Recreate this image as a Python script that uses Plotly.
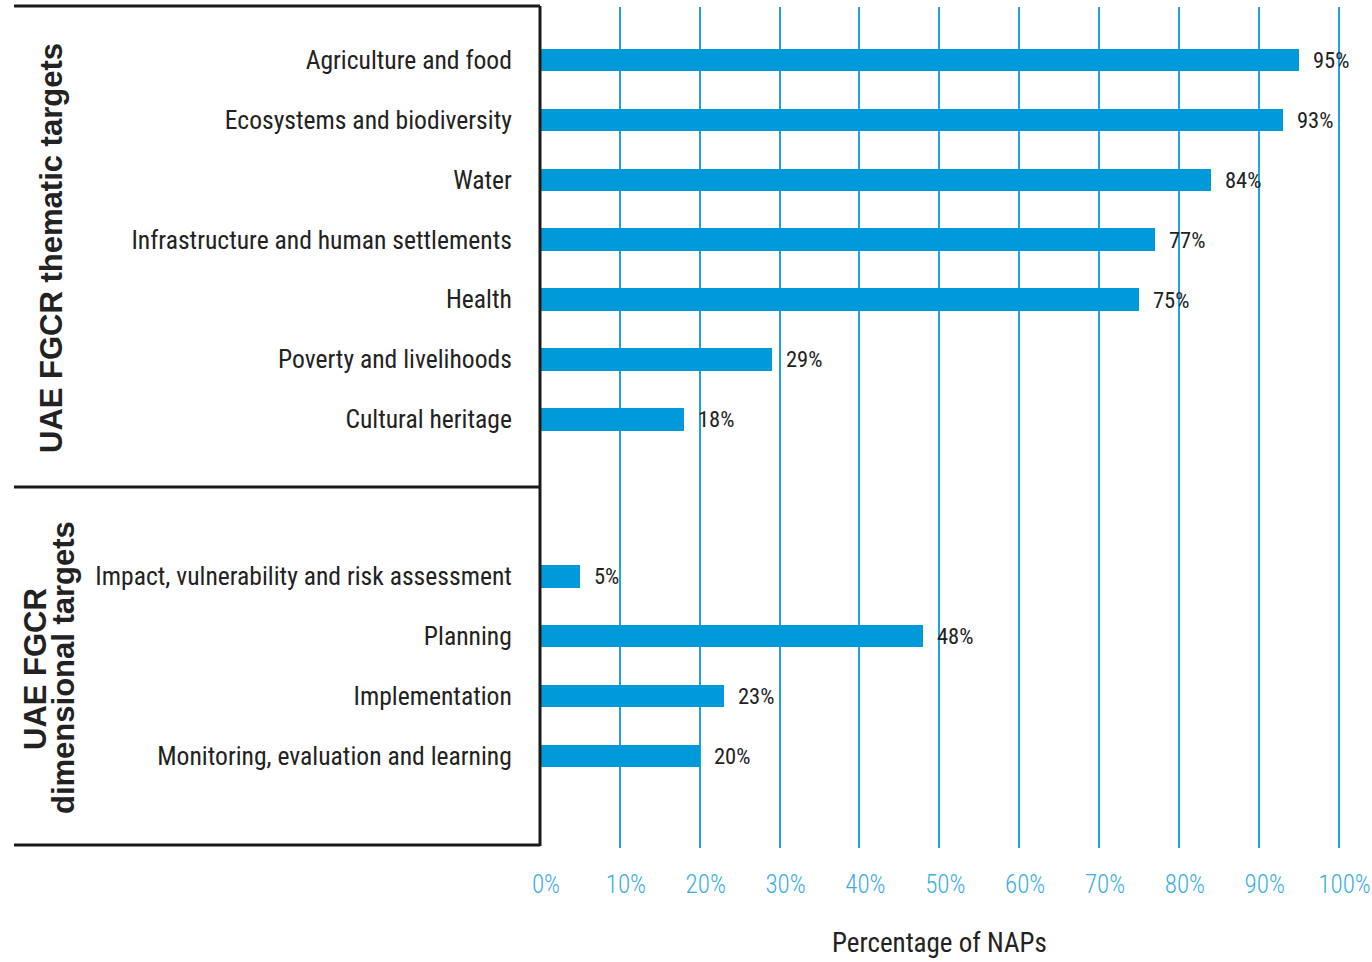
import plotly.graph_objects as go

# ---- data ----
thematic_labels = ["Agriculture and food", "Ecosystems and biodiversity", "Water",
                   "Infrastructure and human settlements", "Health",
                   "Poverty and livelihoods", "Cultural heritage"]
thematic_values = [95, 93, 84, 77, 75, 29, 18]
dimensional_labels = ["Impact, vulnerability and risk assessment", "Planning",
                      "Implementation", "Monitoring, evaluation and learning"]
dimensional_values = [5, 48, 23, 20]
x_ticks = [0, 10, 20, 30, 40, 50, 60, 70, 80, 90, 100]
x_tick_labels = [f"{t}%" for t in x_ticks]
group1_title = "UAE FGCR thematic targets"
group2_title_lines = ["UAE FGCR", "dimensional targets"]
x_title = "Percentage of NAPs"

# ---- layout helpers ----
W, H = 1372, 962
ML, MR, MT, MB = 540, 31, 7, 114
PW, PH = W - ML - MR, H - MT - MB

def xp(px):  # pixel x -> paper
    return (px - ML) / PW

def yp(py):  # pixel y -> paper
    return (H - MB - py) / PH

GAP = 1.62
labels = thematic_labels + dimensional_labels
values = thematic_values + dimensional_values
pos = list(range(len(thematic_labels))) + [len(thematic_labels) + GAP + j for j in range(len(dimensional_labels))]

COND = "Roboto Condensed"
BOLD = "Liberation Sans"
BLUE = "#009ADA"
GRID = "#1FA3E0"
TXT = "#222222"

fig = go.Figure()
fig.add_trace(go.Bar(
    x=values, y=pos, orientation="h", width=0.37,
    marker=dict(color=BLUE, line=dict(width=0)),
    hoverinfo="skip", showlegend=False,
))

for v, p in zip(values, pos):
    fig.add_annotation(x=v, y=p, xref="x", yref="y", text=f"{v}%", showarrow=False,
                       xanchor="left", yanchor="middle", xshift=12,
                       font=dict(family=COND, size=22.5, color=TXT))

fig.update_layout(
    width=W, height=H,
    margin=dict(l=ML, r=MR, t=MT, b=MB, autoexpand=False),
    paper_bgcolor="white", plot_bgcolor="white",
    bargap=0,
)
fig.update_xaxes(
    range=[0, 100.3], tickvals=x_ticks, ticktext=x_tick_labels, automargin=False,
    showgrid=True, gridcolor=GRID, gridwidth=1.5, zeroline=False,
    showline=False, ticks="outside", ticklen=14, tickcolor="rgba(0,0,0,0)",
    ticklabelshift=6,
    tickfont=dict(family=COND, size=25, color="#3AAEE3", weight=300),
    fixedrange=True,
)
fig.update_yaxes(
    range=[13.15, -0.88], tickvals=pos, ticktext=labels, automargin=False,
    showgrid=False, zeroline=False, showline=False,
    ticks="outside", ticklen=22, tickcolor="rgba(0,0,0,0)",
    tickfont=dict(family=COND, size=25.6, color=TXT),
    fixedrange=True,
)

fig.add_annotation(text=x_title, xref="paper", yref="paper", x=xp(939), y=yp(943),
                   xanchor="center", yanchor="middle", showarrow=False,
                   font=dict(family=COND, size=27, color=TXT))

# group titles
GT = dict(family=BOLD, size=31, color=TXT, weight="bold")
fig.add_annotation(text=group1_title, xref="paper", yref="paper", x=xp(51), y=yp(248),
                   textangle=-90, showarrow=False, xanchor="center", yanchor="middle", font=GT)
fig.add_annotation(text=group2_title_lines[0], xref="paper", yref="paper", x=xp(35), y=yp(669),
                   textangle=-90, showarrow=False, xanchor="center", yanchor="middle", font=GT)
fig.add_annotation(text=group2_title_lines[1], xref="paper", yref="paper", x=xp(63), y=yp(668),
                   textangle=-90, showarrow=False, xanchor="center", yanchor="middle", font=GT)

# frame lines
LW = 3
lc = "#1a1a1a"
for ypx in (6, 487, 845):
    fig.add_shape(type="line", xref="paper", yref="paper", x0=xp(14), x1=xp(540),
                  y0=yp(ypx), y1=yp(ypx), line=dict(color=lc, width=LW))
fig.add_shape(type="line", xref="paper", yref="paper", x0=0, x1=0,
              y0=yp(6), y1=yp(846), line=dict(color=lc, width=LW))

fig.write_html("out.html")
